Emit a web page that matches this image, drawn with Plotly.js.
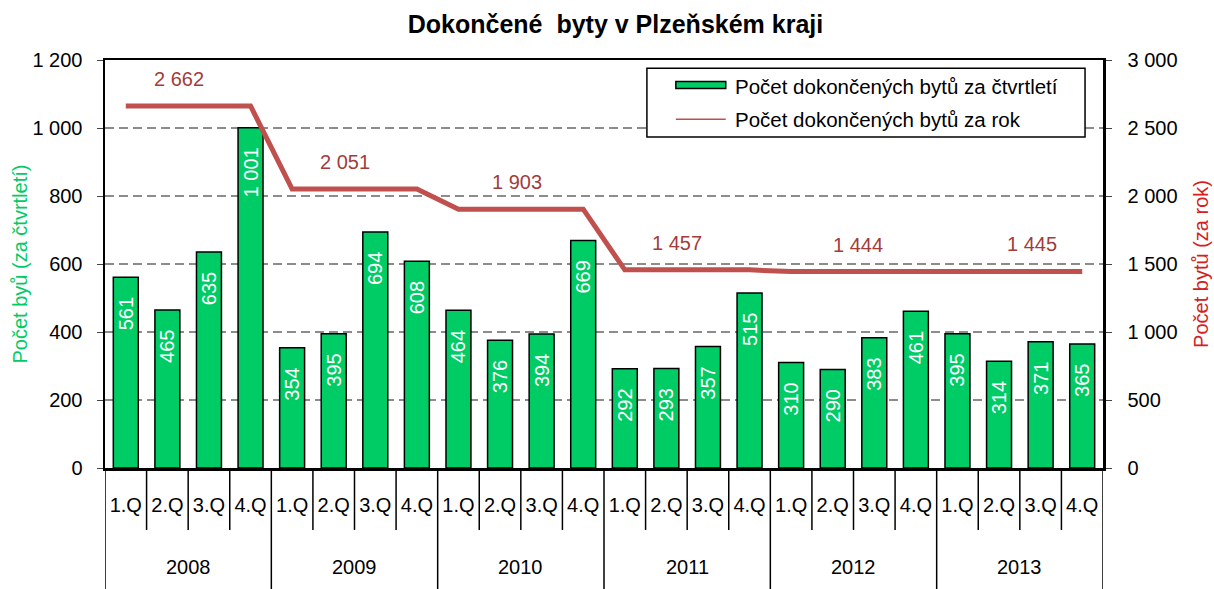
<!DOCTYPE html>
<html>
<head>
<meta charset="utf-8">
<script src="https://cdn.plot.ly/plotly-3.0.1.min.js"></script>
<style>html,body{margin:0;padding:0;background:#fff;}#chart{width:1214px;height:589px;}</style>
</head>
<body>
<div id="chart"></div>
<script>
const years = ['2008', '2009', '2010', '2011', '2012', '2013'];
const quarters = ['1.Q', '2.Q', '3.Q', '4.Q', '1.Q', '2.Q', '3.Q', '4.Q', '1.Q', '2.Q', '3.Q', '4.Q',
                  '1.Q', '2.Q', '3.Q', '4.Q', '1.Q', '2.Q', '3.Q', '4.Q', '1.Q', '2.Q', '3.Q', '4.Q'];
const quarterlyFlats = [561, 465, 635, 1001, 354, 395, 694, 608, 464, 376, 394, 669,
                        292, 293, 357, 515, 310, 290, 383, 461, 395, 314, 371, 365];
const yearlyFlats = [2662, 2051, 1903, 1457, 1444, 1445];
const yearlyPerQuarter = [2662, 2662, 2662, 2662, 2051, 2051, 2051, 2051, 1903, 1903, 1903, 1903,
                          1457, 1457, 1457, 1457, 1444, 1444, 1444, 1444, 1445, 1445, 1445, 1445];
const seriesNames = ['Počet dokončených bytů za čtvrtletí', 'Počet dokončených bytů za rok'];

const FONT = 'Liberation Sans, Arial, sans-serif';
const LINE_COLOR = '#C0504D';
const LABEL_COLOR = '#A33B3B';
const BAR_COLOR = '#00CC66';

function fmt(v) { return String(v).replace(/\B(?=(\d{3})+(?!\d))/g, ' '); }
const PAD = '\u00a0\u00a0\u00a0';

const idx = quarters.map((q, i) => i);

const barTrace = {
  type: 'bar', x: idx, y: quarterlyFlats, name: seriesNames[0], showlegend: false,
  marker: {color: BAR_COLOR, line: {color: '#000', width: 1.5}},
  text: quarterlyFlats.map(v => fmt(v) + PAD), textposition: 'inside', insidetextanchor: 'end',
  constraintext: 'none',
  textangle: -90, textfont: {color: '#fff', size: 20, family: FONT},
  hoverinfo: 'y'
};
const lineTrace = {
  type: 'scatter', mode: 'lines', x: idx, y: yearlyPerQuarter, yaxis: 'y2', showlegend: false,
  name: seriesNames[1], line: {color: LINE_COLOR, width: 5}
};

const shapes = [];
for (let i = 0; i <= quarters.length; i++) {
  const isYear = i % 4 === 0;
  shapes.push({type: 'line', xref: 'x', yref: 'paper', x0: i - 0.5, x1: i - 0.5,
    y0: 0, y1: isYear ? -0.31 : -0.152, line: {color: '#000', width: 1.5}, layer: 'above'});
}
// legend box (drawn manually to match swatch shapes)
shapes.push({type: 'rect', xref: 'paper', yref: 'paper', x0: 0.543, x1: 0.982, y0: 0.811, y1: 0.980,
  fillcolor: '#fff', line: {color: '#000', width: 1.5}, layer: 'above'});
shapes.push({type: 'rect', xref: 'paper', yref: 'paper', x0: 0.572, x1: 0.622, y0: 0.930, y1: 0.947,
  fillcolor: BAR_COLOR, line: {color: '#000', width: 1.5}, layer: 'above'});
shapes.push({type: 'line', xref: 'paper', yref: 'paper', x0: 0.572, x1: 0.622, y0: 0.855, y1: 0.855,
  line: {color: LINE_COLOR, width: 1.5}, layer: 'above'});

const labelShift = [-0.12, -0.13, 0.0, -0.14, 0.2, 0.4];
const annotations = [];
years.forEach((y, k) => {
  annotations.push({xref: 'x', yref: 'paper', x: 4 * k + 1.5, y: -0.243, text: y,
    showarrow: false, font: {size: 20, family: FONT, color: '#000'}, yanchor: 'middle'});
  annotations.push({xref: 'x', yref: 'y2', x: 4 * k + 1.4 + labelShift[k], y: yearlyFlats[k], yshift: 27,
    text: fmt(yearlyFlats[k]), showarrow: false, font: {size: 20, family: FONT, color: LABEL_COLOR}});
});
annotations.push({xref: 'paper', yref: 'paper', x: 0.629, y: 0.934, xanchor: 'left', yanchor: 'middle',
  text: seriesNames[0], showarrow: false, font: {size: 20.5, family: FONT, color: '#000'}});
annotations.push({xref: 'paper', yref: 'paper', x: 0.629, y: 0.853, xanchor: 'left', yanchor: 'middle',
  text: seriesNames[1], showarrow: false, font: {size: 20.5, family: FONT, color: '#000'}});

const layout = {
  width: 1214, height: 589,
  margin: {l: 105, r: 111, t: 60, b: 121},
  paper_bgcolor: '#fff', plot_bgcolor: '#fff',
  font: {family: FONT, size: 20, color: '#000'},
  separators: ', ',
  title: {text: '<b>Dokončené  byty v Plzeňském kraji</b>', font: {size: 25, family: FONT, color: '#000'},
    xref: 'container', x: 0.507, xanchor: 'center', yref: 'container', y: 0.958, yanchor: 'middle'},
  bargap: 0.4,
  showlegend: false,
  xaxis: {range: [-0.5, 23.5], tickvals: idx, ticktext: quarters, ticks: 'outside', ticklen: 17,
    tickcolor: 'rgba(0,0,0,0)', showline: true, linecolor: '#000', linewidth: 2.5, mirror: true,
    showgrid: false, zeroline: false, fixedrange: true, tickfont: {size: 20}},
  yaxis: {range: [0, 1200], dtick: 200, showgrid: true, gridcolor: '#8c8c8c', griddash: '9px,5px',
    gridwidth: 2, showline: true, linecolor: '#000', linewidth: 2.5, ticks: 'outside', ticklen: 6,
    ticklabelstandoff: 10, separatethousands: true, zeroline: false, tickfont: {size: 20},
    title: {text: 'Počet byů (za čtvrtletí)', font: {color: '#00CC66', size: 20, family: FONT}, standoff: 0}},
  yaxis2: {range: [0, 3000], dtick: 500, overlaying: 'y', side: 'right', showgrid: false,
    showline: true, linecolor: '#000', linewidth: 2.5, ticks: 'outside', ticklen: 6,
    ticklabelstandoff: 12, separatethousands: true, zeroline: false, tickfont: {size: 20},
    title: {text: 'Počet bytů (za rok)', font: {color: '#D42020', size: 20, family: FONT}, standoff: 18}},
  shapes: shapes,
  annotations: annotations
};

Plotly.newPlot('chart', [barTrace, lineTrace], layout, {displayModeBar: false, staticPlot: true});
</script>
</body>
</html>
